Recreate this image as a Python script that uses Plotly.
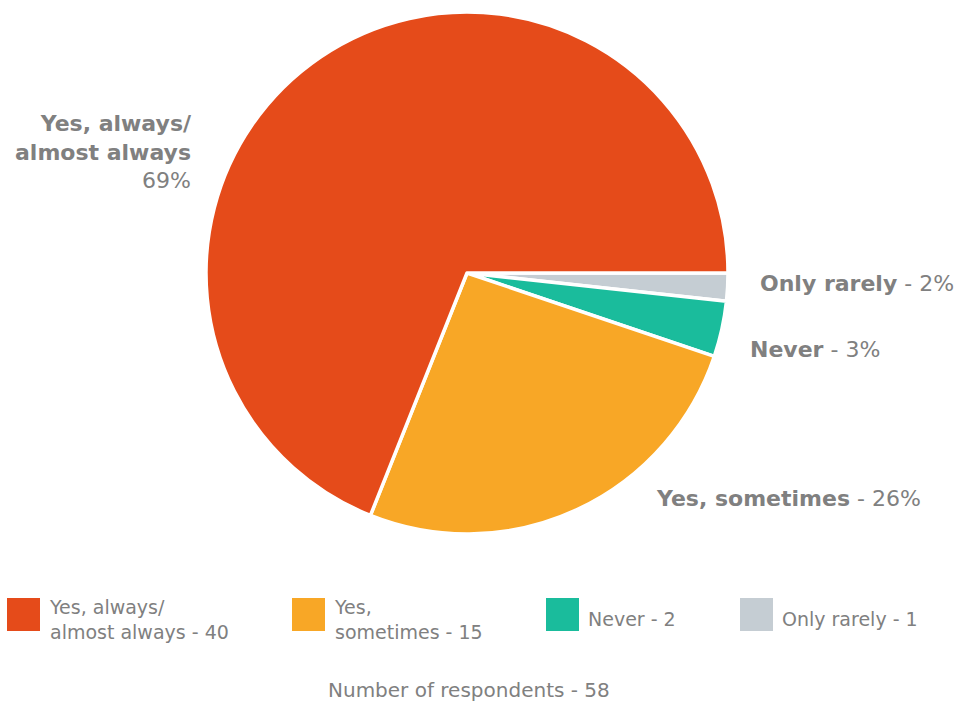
import plotly.graph_objects as go

# Survey answers and respondent counts
categories = ["Yes, always/ almost always", "Yes, sometimes", "Never", "Only rarely"]
counts = [40, 15, 2, 1]
colors = ["#E54B1A", "#F8A726", "#1ABC9C", "#C5CDD3"]

# Text used in the outside labels and the legend
slice_titles = ["Yes, always/<br>almost always", "Yes, sometimes", "Never", "Only rarely"]
legend_titles = ["Yes, always/<br>almost always", "Yes,<br>sometimes", "Never", "Only rarely"]

W, H = 966, 704
FONT = "DejaVu Sans"
GREY = "#808080"

total = sum(counts)
pcts = [round(100 * c / total) for c in counts]

# Slices run clockwise from 3 o'clock, smallest answer first
fig = go.Figure(
    go.Pie(
        labels=categories[::-1],
        values=counts[::-1],
        sort=False,
        direction="clockwise",
        rotation=90,
        marker=dict(colors=colors[::-1], line=dict(color="white", width=3.5)),
        textinfo="none",
        hoverinfo="label+value+percent",
        showlegend=False,
        domain=dict(x=[(467 - 261) / W, (467 + 261) / W],
                    y=[1 - 534 / H, 1 - 12 / H]),
    )
)

annotations = []


def px(x, y):
    return x / W, 1 - y / H


# Outside slice labels, one per answer
label_pos = [
    (194, 152, "right"),
    (654, 498, "left"),
    (748, 349, "left"),
    (758, 284, "left"),
]
for i, (x, y, xa) in enumerate(label_pos):
    if i == 0:
        text = f"<b>{slice_titles[i]}</b><br>{pcts[i]}%"
    else:
        text = f"<b>{slice_titles[i]}</b> - {pcts[i]}%"
    ax, ay = px(x, y)
    annotations.append(dict(
        x=ax, y=ay, xref="paper", yref="paper", xanchor=xa, yanchor="middle",
        text=text, showarrow=False, align=xa,
        font=dict(family=FONT, size=22, color=GREY),
    ))

# Legend: coloured squares with names and counts
legend_x = [7, 292, 546, 740]
shapes = []
for i, lx in enumerate(legend_x):
    x0, y0 = px(lx, 598)
    x1, y1 = px(lx + 33, 631)
    shapes.append(dict(type="rect", xref="paper", yref="paper",
                       x0=x0, x1=x1, y0=y1, y1=y0,
                       fillcolor=colors[i], line=dict(width=0)))
    tx, ty = px(lx + 40, 619)
    annotations.append(dict(
        x=tx, y=ty, xref="paper", yref="paper", xanchor="left", yanchor="middle",
        text=f"{legend_titles[i]} - {counts[i]}", showarrow=False, align="left",
        font=dict(family=FONT, size=19, color=GREY),
    ))

# Footer with the total
fx, fy = px(469, 690)
annotations.append(dict(
    x=fx, y=fy, xref="paper", yref="paper", xanchor="center", yanchor="middle",
    text=f"Number of respondents - {total}", showarrow=False,
    font=dict(family=FONT, size=20, color=GREY),
))

fig.update_layout(
    width=W, height=H,
    margin=dict(l=0, r=0, t=0, b=0),
    paper_bgcolor="white",
    plot_bgcolor="white",
    annotations=annotations,
    shapes=shapes,
    font=dict(family=FONT, color=GREY),
)

fig.write_html("out.html")
